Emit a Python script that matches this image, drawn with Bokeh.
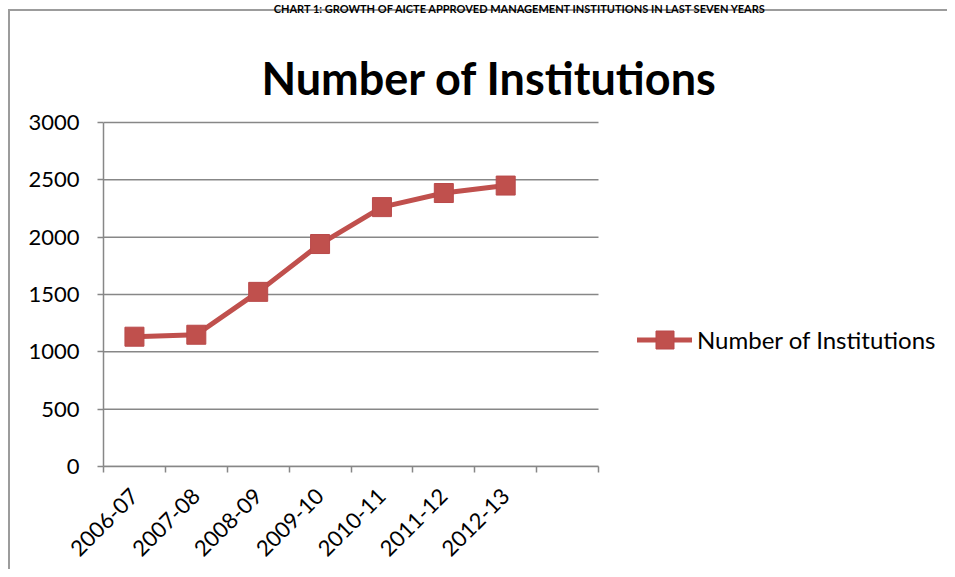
import math
from bokeh.plotting import figure
from bokeh.models import Range1d, FixedTicker, Legend, LegendItem, Label
from bokeh.embed import file_html
from bokeh.resources import INLINE

categories = ["2006-07", "2007-08", "2008-09", "2009-10", "2010-11", "2011-12", "2012-13"]
institutions = [1132, 1149, 1523, 1940, 2262, 2385, 2450]
y_ticks = [0, 500, 1000, 1500, 2000, 2500, 3000]
series_name = "Number of Institutions"
chart_title = "Number of Institutions"
caption = "CHART 1: GROWTH OF AICTE APPROVED MANAGEMENT INSTITUTIONS IN LAST SEVEN YEARS"

n_slots = len(categories) + 1
xs = [i + 0.5 for i in range(len(categories))]
y_max = y_ticks[-1]

FONT = "Lato"
RED = "#C0504D"
GRAY = "#878787"

# layout in pixels: plot area 103..598 x 122..466 inside a 947x569 canvas
W, H = 947, 569
LEFT, BOTTOM = 103, 103
PLOT_W, PLOT_H = 495, 344
frame_w, frame_h = W - LEFT, H - BOTTOM
ux = n_slots / PLOT_W          # data units per pixel (x)
uy = y_max / PLOT_H            # data units per pixel (y)

def dx(px):   # canvas x pixel -> data x
    return (px - LEFT) * ux

def dy(py):   # canvas y pixel -> data y
    return (frame_h - py) * uy

p = figure(width=W, height=H, output_backend="svg", toolbar_location=None,
           title=None,
           x_range=Range1d(0, frame_w * ux), y_range=Range1d(0, frame_h * uy),
           min_border_left=LEFT, min_border_top=0, min_border_right=0,
           min_border_bottom=BOTTOM)
p.outline_line_color = None
p.background_fill_color = None
p.border_fill_color = None
p.styles = {"box-shadow": "inset 8px 9px 0 0 white, inset 10px 11px 0 0 #9c9c9c"}

# x axis: labels at category centres, ticks at category boundaries
p.xaxis.ticker = FixedTicker(ticks=xs, minor_ticks=list(range(n_slots + 1)))
p.xaxis.bounds = (-6 * ux, n_slots)
p.xaxis.major_label_overrides = {x: c for x, c in zip(xs, categories)}
p.xaxis.major_tick_line_color = None
p.xaxis.minor_tick_line_color = GRAY
p.xaxis.minor_tick_line_width = 1.5
p.xaxis.minor_tick_out = 6
p.xaxis.minor_tick_in = 0
p.xaxis.major_label_orientation = math.pi / 4
p.xaxis.major_label_standoff = 20
p.xaxis.axis_line_color = GRAY
p.xaxis.axis_line_width = 1.5
p.xaxis.major_label_text_font = FONT
p.xaxis.major_label_text_font_size = "22px"
p.xaxis.major_label_text_color = "black"

p.yaxis.ticker = FixedTicker(ticks=y_ticks)
p.yaxis.bounds = (0, y_max)
p.yaxis.minor_tick_line_color = None
p.yaxis.major_tick_line_color = GRAY
p.yaxis.major_tick_line_width = 1.5
p.yaxis.major_tick_out = 6
p.yaxis.major_tick_in = 0
p.yaxis.major_label_standoff = 18
p.yaxis.axis_line_color = GRAY
p.yaxis.axis_line_width = 1.5
p.yaxis.major_label_text_font = FONT
p.yaxis.major_label_text_font_size = "22px"
p.yaxis.major_label_text_color = "black"

p.xgrid.grid_line_color = None
p.ygrid.grid_line_color = None

# horizontal gridlines limited to the plot area
p.segment(x0=[0] * len(y_ticks), x1=[n_slots] * len(y_ticks), y0=y_ticks, y1=y_ticks,
          line_color=GRAY, line_width=1.5)

# data
ln = p.line(xs, institutions, line_color=RED, line_width=5, line_cap="round",
            line_join="round")
sc = p.scatter(xs, institutions, marker="square", size=19, fill_color=RED,
               line_color="#B9494A", line_width=1)

legend = Legend(items=[LegendItem(label=series_name, renderers=[ln, sc])],
                location=(637 - LEFT, frame_h - 362), margin=0, padding=0,
                glyph_width=55, glyph_height=45, label_standoff=5,
                label_text_font=FONT, label_text_font_size="24px",
                label_text_color="black", background_fill_alpha=0,
                border_line_color=None)
p.add_layout(legend, "center")

p.add_layout(Label(x=dx(489), y=dy(77), text=chart_title,
                   text_font=FONT, text_font_style="bold", text_font_size="45px",
                   text_align="center", text_baseline="alphabetic", text_color="black"))

p.add_layout(Label(x=dx(520), y=dy(8), text=caption,
                   text_font=FONT, text_font_style="bold", text_font_size="11px",
                   text_align="center", text_baseline="alphabetic", text_color="black"))

open("out.html", "w").write(file_html(p, INLINE))
